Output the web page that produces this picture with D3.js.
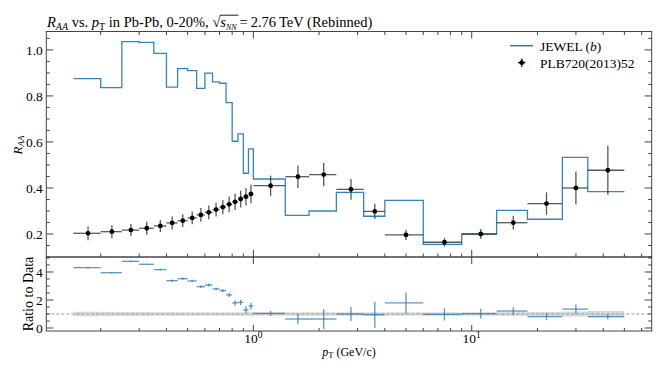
<!DOCTYPE html>
<html><head><meta charset="utf-8">
<script src="https://cdn.jsdelivr.net/npm/d3@7"></script>
<style>
html,body{margin:0;padding:0;background:#fff;}
svg{display:block;}
text{font-family:"Liberation Serif","Times New Roman",serif;fill:#000;}
</style></head>
<body>
<svg id="chart" width="664" height="374"></svg>
<script>
// ---- data ----
const ptLow  = [0.15,0.2,0.25,0.3,0.35,0.4,0.45,0.5,0.55,0.6,0.65,0.7,0.75,0.8,0.85,0.9,0.95,1.0,1.4,1.8,2.4,3.2,4,6,9,13,18,26,34];
const ptHigh = [0.2,0.25,0.3,0.35,0.4,0.45,0.5,0.55,0.6,0.65,0.7,0.75,0.8,0.85,0.9,0.95,1.0,1.4,1.8,2.4,3.2,4,6,9,13,18,26,34,50];
const ptCenter = [0.175,0.225,0.275,0.325,0.375,0.425,0.475,0.525,0.575,0.625,0.675,0.725,0.775,0.825,0.875,0.925,0.975,1.2,1.6,2.1,2.8,3.6,5,7.5,11,15.5,22,30,42];
const dataRaa = [0.203,0.21,0.217,0.225,0.235,0.248,0.258,0.27,0.283,0.294,0.306,0.317,0.329,0.34,0.352,0.362,0.374,0.41,0.449,0.458,0.394,0.298,0.196,0.164,0.2,0.249,0.332,0.4,0.477];
const dataErr = [0.03,0.028,0.026,0.028,0.026,0.028,0.028,0.028,0.03,0.03,0.03,0.031,0.034,0.036,0.037,0.038,0.04,0.044,0.049,0.051,0.045,0.033,0.022,0.018,0.022,0.03,0.049,0.072,0.106];
const jewelRaa = [0.875,0.836,1.036,1.033,0.985,0.838,0.919,0.91,0.833,0.899,0.861,0.855,0.771,0.603,0.635,0.464,0.57,0.439,0.281,0.3,0.381,0.277,0.346,0.155,0.199,0.303,0.264,0.533,0.384];
const ratioVal = [4.31,3.95,4.76,4.55,4.17,3.38,3.52,3.36,2.95,3.07,2.79,2.67,2.36,1.79,1.83,1.29,1.57,1.05,0.64,0.64,1.0,0.95,1.79,0.97,1.03,1.21,0.81,1.35,0.81];
const ratioErr = [0.06,0.05,0.06,0.06,0.06,0.08,0.08,0.08,0.1,0.1,0.1,0.12,0.15,0.2,0.18,0.24,0.24,0.17,0.36,0.71,0.5,0.93,0.75,0.44,0.35,0.27,0.26,0.35,0.18];
const bandHalf = [0.16,0.15,0.14,0.14,0.13,0.13,0.13,0.12,0.12,0.12,0.12,0.12,0.12,0.12,0.12,0.12,0.12,0.12,0.12,0.12,0.12,0.12,0.12,0.12,0.12,0.13,0.15,0.18,0.22];
const yTicksMain = [0.2,0.4,0.6,0.8,1.0];
const yTicksRatio = [0,2,4];
const xMajor = [1,10];
const xMinor = [0.2,0.3,0.4,0.5,0.6,0.7,0.8,0.9,2,3,4,5,6,7,8,9,20,30,40,50,60];

const svg = d3.select("#chart");
const L = 46.3, R = 651.7;
const mainTop = 31.5, mainBot = 257, ratTop = 257, ratBot = 331;
const blue = "#1f77b4";
const axisCol = "#444";

const x = d3.scaleLog().domain([0.1127, 66.7]).range([L, R]);
const y = d3.scaleLinear().domain([0.1, 1.08]).range([mainBot, mainTop]);
const yr = d3.scaleLinear().domain([-0.214, 5.07]).range([ratBot, ratTop]);

const fmt1 = d3.format(".1f");

// ---------- MAIN PANEL ----------
const gMain = svg.append("g");
// JEWEL step
const stepPts = ptLow.map((p,i)=>[p, jewelRaa[i]]);
stepPts.push([ptHigh[ptHigh.length-1], jewelRaa[jewelRaa.length-1]]);
gMain.append("path")
  .attr("d", d3.line().x(d=>x(d[0])).y(d=>y(d[1])).curve(d3.curveStepAfter)(stepPts))
  .attr("fill","none").attr("stroke",blue).attr("stroke-width",1.3).attr("stroke-opacity",0.9);

// data points
const dg = gMain.append("g");
ptCenter.forEach((c,i)=>{
  dg.append("line").attr("x1",x(ptLow[i])).attr("x2",x(ptHigh[i]))
    .attr("y1",y(dataRaa[i])).attr("y2",y(dataRaa[i]))
    .attr("stroke","#222").attr("stroke-opacity",0.75).attr("stroke-width",1.3);
  dg.append("line").attr("x1",x(c)).attr("x2",x(c))
    .attr("y1",y(dataRaa[i]-dataErr[i])).attr("y2",y(dataRaa[i]+dataErr[i]))
    .attr("stroke","#222").attr("stroke-opacity",0.75).attr("stroke-width",1.3);
  dg.append("circle").attr("cx",x(c)).attr("cy",y(dataRaa[i])).attr("r",2.4).attr("fill","#000");
});

// main axes
const mainAxes = svg.append("g");
mainAxes.append("rect").attr("x",L).attr("y",mainTop).attr("width",R-L).attr("height",mainBot-mainTop)
  .attr("fill","none").attr("stroke",axisCol).attr("stroke-width",1);

function yTicks(g, scale, majors, minors, labels, fmt){
  majors.forEach(v=>{
    g.append("line").attr("x1",L).attr("x2",L+7).attr("y1",scale(v)).attr("y2",scale(v)).attr("stroke",axisCol);
    g.append("line").attr("x1",R).attr("x2",R-7).attr("y1",scale(v)).attr("y2",scale(v)).attr("stroke",axisCol);
    if(labels) g.append("text").attr("x",L-3.5).attr("y",scale(v)).attr("dy","0.35em")
      .attr("text-anchor","end").attr("font-size",13.5).text(fmt(v));
  });
  minors.forEach(v=>{
    g.append("line").attr("x1",L).attr("x2",L+3.5).attr("y1",scale(v)).attr("y2",scale(v)).attr("stroke",axisCol);
    g.append("line").attr("x1",R).attr("x2",R-3.5).attr("y1",scale(v)).attr("y2",scale(v)).attr("stroke",axisCol);
  });
}
const mainMinor = d3.range(0.1, 1.08, 0.05).map(v=>+v.toFixed(2)).filter(v=>!yTicksMain.some(m=>Math.abs(m-v)<1e-6));
yTicks(mainAxes, y, yTicksMain, mainMinor, true, fmt1);

function xTicks(g, yPos, dir, majLen, minLen){
  xMajor.forEach(v=>{
    g.append("line").attr("x1",x(v)).attr("x2",x(v)).attr("y1",yPos).attr("y2",yPos+dir*majLen).attr("stroke",axisCol);
  });
  if(minLen>0) xMinor.forEach(v=>{
    g.append("line").attr("x1",x(v)).attr("x2",x(v)).attr("y1",yPos).attr("y2",yPos+dir*minLen).attr("stroke",axisCol);
  });
}
xTicks(mainAxes, mainTop, 1, 7, 3.5);
xTicks(mainAxes, mainBot, -1, 7, 3.5);

// ---------- RATIO PANEL ----------
const gRat = svg.append("g");
ptLow.forEach((p,i)=>{
  gRat.append("rect").attr("x",x(p)).attr("width",x(ptHigh[i])-x(p))
    .attr("y",yr(1+bandHalf[i])).attr("height",yr(1-bandHalf[i])-yr(1+bandHalf[i]))
    .attr("fill","#d9d9d9").attr("stroke","none");
});
gRat.append("line").attr("x1",L).attr("x2",R).attr("y1",yr(1)).attr("y2",yr(1))
  .attr("stroke","#999").attr("stroke-width",1.2).attr("stroke-dasharray","3,2");
ptCenter.forEach((c,i)=>{
  gRat.append("line").attr("x1",x(ptLow[i])).attr("x2",x(ptHigh[i]))
    .attr("y1",yr(ratioVal[i])).attr("y2",yr(ratioVal[i]))
    .attr("stroke",blue).attr("stroke-opacity",0.75).attr("stroke-width",1.3);
  gRat.append("line").attr("x1",x(c)).attr("x2",x(c))
    .attr("y1",yr(ratioVal[i]-ratioErr[i])).attr("y2",yr(ratioVal[i]+ratioErr[i]))
    .attr("stroke",blue).attr("stroke-opacity",0.75).attr("stroke-width",1.3);
});
const ratAxes = svg.append("g");
ratAxes.append("rect").attr("x",L).attr("y",ratTop).attr("width",R-L).attr("height",ratBot-ratTop)
  .attr("fill","none").attr("stroke",axisCol).attr("stroke-width",1);
const ratMinor = d3.range(0, 5.01, 0.5).filter(v=>!yTicksRatio.includes(v));
yTicks(ratAxes, yr, yTicksRatio, ratMinor, true, d3.format("d"));
xTicks(ratAxes, ratTop, 1, 7, 0);
xTicks(ratAxes, ratBot, -1, 6, 3);

// x tick labels
xMajor.forEach(v=>{
  const t = ratAxes.append("text").attr("x",x(v)).attr("y",343).attr("text-anchor","middle").attr("font-size",13.5);
  t.append("tspan").text("10");
  t.append("tspan").attr("dy",-5).attr("font-size",9.5).text(String(Math.round(Math.log10(v))));
});

// axis labels
const xl = svg.append("text").attr("x",349).attr("y",356).attr("text-anchor","middle").attr("font-size",12);
xl.append("tspan").attr("font-style","italic").text("p");
xl.append("tspan").attr("font-size",8.5).attr("dy",2).text("T");
xl.append("tspan").attr("dy",-2).text(" (GeV/c)");

const yl = svg.append("text").attr("transform","translate(22,145) rotate(-90)").attr("text-anchor","middle").attr("font-size",13);
yl.append("tspan").attr("font-style","italic").text("R");
yl.append("tspan").attr("font-style","italic").attr("font-size",9).attr("dy",2).text("AA");

svg.append("text").attr("transform","translate(33,294) rotate(-90)").attr("text-anchor","middle")
  .attr("font-size",14).text("Ratio to Data");

// title
const title = svg.append("text").attr("x",47).attr("y",27).attr("font-size",14.5);
title.append("tspan").attr("font-style","italic").text("R");
title.append("tspan").attr("font-style","italic").attr("font-size",10).attr("dy",3).text("AA");
title.append("tspan").attr("dy",-3).text(" vs. ");
title.append("tspan").attr("font-style","italic").text("p");
title.append("tspan").attr("font-size",10).attr("dy",3).text("T");
title.append("tspan").attr("dy",-3).text(" in Pb-Pb, 0-20%, ");
title.append("tspan").text("\u221A");
const sTs = title.append("tspan").attr("font-style","italic").text("s");
const nnTs = title.append("tspan").attr("font-style","italic").attr("font-size",8).attr("dy",3).text("NN");
title.append("tspan").attr("dy",-3).text("\u2009=\u20092.76\u2009TeV (Rebinned)");
// overline for sqrt
try{
  const b1 = sTs.node().getBBox(), b2 = nnTs.node().getBBox();
  svg.append("line").attr("x1",b1.x-0.5).attr("x2",b2.x+b2.width+1).attr("y1",b1.y+1.2).attr("y2",b1.y+1.2)
    .attr("stroke","#000").attr("stroke-width",0.9);
}catch(e){}

// legend
const lg = svg.append("g");
lg.append("line").attr("x1",510).attr("x2",533).attr("y1",45.7).attr("y2",45.7).attr("stroke",blue).attr("stroke-width",1.4);
const lt1 = lg.append("text").attr("x",540).attr("y",50.5).attr("font-size",13.5);
lt1.append("tspan").text("JEWEL (");
lt1.append("tspan").attr("font-style","italic").text("b");
lt1.append("tspan").text(")");
lg.append("line").attr("x1",518).attr("x2",525.5).attr("y1",62.7).attr("y2",62.7).attr("stroke","#222").attr("stroke-width",1.3);
lg.append("line").attr("x1",521.7).attr("x2",521.7).attr("y1",58.5).attr("y2",67).attr("stroke","#222").attr("stroke-width",1.3);
lg.append("circle").attr("cx",521.7).attr("cy",62.7).attr("r",2.4).attr("fill","#000");
lg.append("text").attr("x",540).attr("y",67.5).attr("font-size",13.5).text("PLB720(2013)52");
</script>
</body></html>
